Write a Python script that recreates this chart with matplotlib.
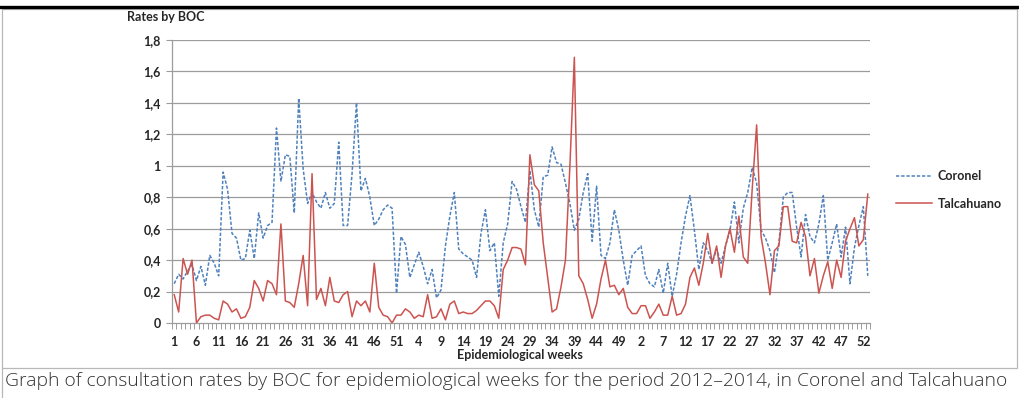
import numpy as np
import matplotlib
matplotlib.use('Agg')
import matplotlib.pyplot as plt
from matplotlib.lines import Line2D
from matplotlib.patches import Rectangle

# weekly consultation rates by BOC, 2012-2014 (2014 has 53 epi weeks)
weeks_2012 = list(range(1, 53))
weeks_2013 = list(range(1, 53))
weeks_2014 = list(range(1, 54))

coronel_2012 = [0.25, 0.31, 0.28, 0.33, 0.37, 0.27, 0.36, 0.24, 0.43, 0.38,
                0.30, 0.96, 0.85, 0.57, 0.54, 0.40, 0.41, 0.59, 0.41, 0.70,
                0.54, 0.62, 0.64, 1.24, 0.90, 1.07, 1.06, 0.70, 1.43, 0.98,
                0.76, 0.83, 0.77, 0.73, 0.83, 0.73, 0.76, 1.15, 0.62, 0.62,
                0.95, 1.40, 0.84, 0.92, 0.80, 0.62, 0.66, 0.72, 0.75, 0.73,
                0.19, 0.55]
coronel_2013 = [0.50, 0.29, 0.37, 0.45, 0.36, 0.25, 0.34, 0.16, 0.21, 0.49,
                0.68, 0.83, 0.47, 0.44, 0.42, 0.40, 0.29, 0.57, 0.72, 0.46,
                0.51, 0.17, 0.51, 0.63, 0.90, 0.85, 0.74, 0.64, 0.97, 0.72,
                0.61, 0.93, 0.94, 1.12, 1.02, 1.01, 0.89, 0.76, 0.59, 0.66,
                0.83, 0.95, 0.52, 0.87, 0.43, 0.41, 0.51, 0.72, 0.59, 0.40,
                0.24, 0.43]
coronel_2014 = [0.46, 0.49, 0.30, 0.25, 0.23, 0.34, 0.19, 0.38, 0.17, 0.31,
                0.51, 0.68, 0.81, 0.59, 0.34, 0.51, 0.46, 0.38, 0.47, 0.38,
                0.49, 0.59, 0.77, 0.51, 0.73, 0.83, 0.99, 0.89, 0.59, 0.54,
                0.46, 0.32, 0.51, 0.80, 0.83, 0.83, 0.61, 0.42, 0.69, 0.55,
                0.51, 0.63, 0.81, 0.40, 0.51, 0.63, 0.42, 0.61, 0.25, 0.48,
                0.62, 0.74, 0.30]

talca_2012 = [0.18, 0.07, 0.41, 0.31, 0.40, 0.00, 0.04, 0.05, 0.05, 0.03,
              0.02, 0.14, 0.12, 0.07, 0.09, 0.03, 0.04, 0.10, 0.27, 0.22,
              0.14, 0.27, 0.25, 0.18, 0.63, 0.14, 0.13, 0.10, 0.25, 0.43,
              0.11, 0.95, 0.15, 0.22, 0.11, 0.29, 0.14, 0.13, 0.18, 0.20,
              0.04, 0.14, 0.11, 0.14, 0.07, 0.38, 0.10, 0.05, 0.04, 0.00,
              0.05, 0.05]
talca_2013 = [0.09, 0.07, 0.03, 0.05, 0.04, 0.18, 0.03, 0.04, 0.09, 0.02,
              0.12, 0.14, 0.06, 0.07, 0.06, 0.06, 0.08, 0.11, 0.14, 0.14,
              0.11, 0.03, 0.34, 0.40, 0.48, 0.48, 0.47, 0.37, 1.07, 0.88,
              0.84, 0.51, 0.29, 0.07, 0.09, 0.23, 0.40, 1.00, 1.69, 0.30,
              0.25, 0.15, 0.03, 0.12, 0.28, 0.40, 0.23, 0.24, 0.18, 0.22,
              0.10, 0.06]
talca_2014 = [0.06, 0.11, 0.11, 0.03, 0.07, 0.12, 0.05, 0.05, 0.17, 0.05,
              0.06, 0.12, 0.29, 0.35, 0.24, 0.38, 0.57, 0.38, 0.49, 0.29,
              0.49, 0.60, 0.45, 0.68, 0.42, 0.38, 0.85, 1.26, 0.55, 0.38,
              0.18, 0.46, 0.49, 0.74, 0.74, 0.52, 0.51, 0.64, 0.55, 0.30,
              0.41, 0.19, 0.30, 0.39, 0.22, 0.40, 0.29, 0.52, 0.60, 0.67,
              0.49, 0.53, 0.82]

yticks = [0, 0.2, 0.4, 0.6, 0.8, 1.0, 1.2, 1.4, 1.6, 1.8]
ylabels = ['0', '0,2', '0,4', '0,6', '0,8', '1', '1,2', '1,4', '1,6', '1,8']

weeks = weeks_2012 + weeks_2013 + weeks_2014
coronel = coronel_2012 + coronel_2013 + coronel_2014
talca = talca_2012 + talca_2013 + talca_2014
x = np.arange(len(weeks))

plt.rcParams['font.family'] = ['Lato', 'DejaVu Sans']

fig = plt.figure(figsize=(10.2, 3.98), dpi=100)
ax = fig.add_axes([172 / 1020, 1 - 323 / 398, 698 / 1020, 283 / 398])

blue = '#4f81bd'
red = '#cc5450'
grid = '#9c9c9c'

ax.plot(x, coronel, color=blue, lw=1.1, dashes=(2.2, 1.2), label='Coronel')
ax.plot(x, talca, color=red, lw=1.1, label='Talcahuano')

ax.set_xlim(-0.5, len(weeks) - 0.5)
ax.set_ylim(0, 1.8)
ax.set_yticks(yticks)
ax.set_yticklabels(ylabels)
for v in yticks[1:]:
    ax.axhline(v, color=grid, lw=0.9, zorder=0)

ax.set_xticks(x[::5])
ax.set_xticklabels([str(w) for w in weeks[::5]])
ax.set_xticks(np.arange(len(weeks) + 1) - 0.5, minor=True)
ax.tick_params(axis='x', which='major', length=0, pad=9)
ax.tick_params(axis='x', which='minor', length=4, color=grid, width=0.7)
ax.tick_params(axis='y', length=4, color=grid, width=0.8, pad=4)
for lab in ax.get_xticklabels() + ax.get_yticklabels():
    lab.set_fontsize(9)
    lab.set_fontweight('bold')
    lab.set_color('#262626')

for s in ['top', 'right']:
    ax.spines[s].set_visible(False)
for s in ['left', 'bottom']:
    ax.spines[s].set_color(grid)
    ax.spines[s].set_linewidth(0.9)

fig.text(127 / 1020, 1 - 17 / 398, 'Rates by BOC', fontsize=9, fontweight='bold',
         color='#262626', ha='left', va='center')
fig.text(520 / 1020, 1 - 355 / 398, 'Epidemiological weeks', fontsize=9,
         fontweight='bold', color='#262626', ha='center', va='center')

handles = [Line2D([], [], color=blue, lw=1.1, dashes=(2.2, 1.2)),
           Line2D([], [], color=red, lw=1.1)]
leg = fig.legend(handles, ['Coronel', 'Talcahuano'], loc='center left',
                 bbox_to_anchor=(885 / 1020, 1 - 190 / 398), frameon=False,
                 handlelength=2.9, handletextpad=0.4, labelspacing=1.25,
                 prop={'size': 9, 'weight': 'bold'})
for t in leg.get_texts():
    t.set_color('#262626')

# page frame around the figure and caption
fig.add_artist(Line2D([0, 1], [1 - 6.5 / 398] * 2, color='black', lw=2.4))
fig.add_artist(Rectangle((2.5 / 1020, 1 - 368 / 398), 1014.5 / 1020, 359 / 398,
                         fill=False, ec='#b8b8b8', lw=0.9))
fig.add_artist(Line2D([2.5 / 1020] * 2, [0, 1 - 368 / 398], color='#b8b8b8', lw=0.9))
fig.text(5 / 1020, 1 - 381 / 398,
         'Graph of consultation rates by BOC for epidemiological weeks for the period '
         '2012\u20132014, in Coronel and Talcahuano',
         family=['Open Sans', 'DejaVu Sans'], fontsize=13.85, fontweight='light',
         color='#333333', ha='left', va='center')

fig.savefig('out.png', dpi=100)
